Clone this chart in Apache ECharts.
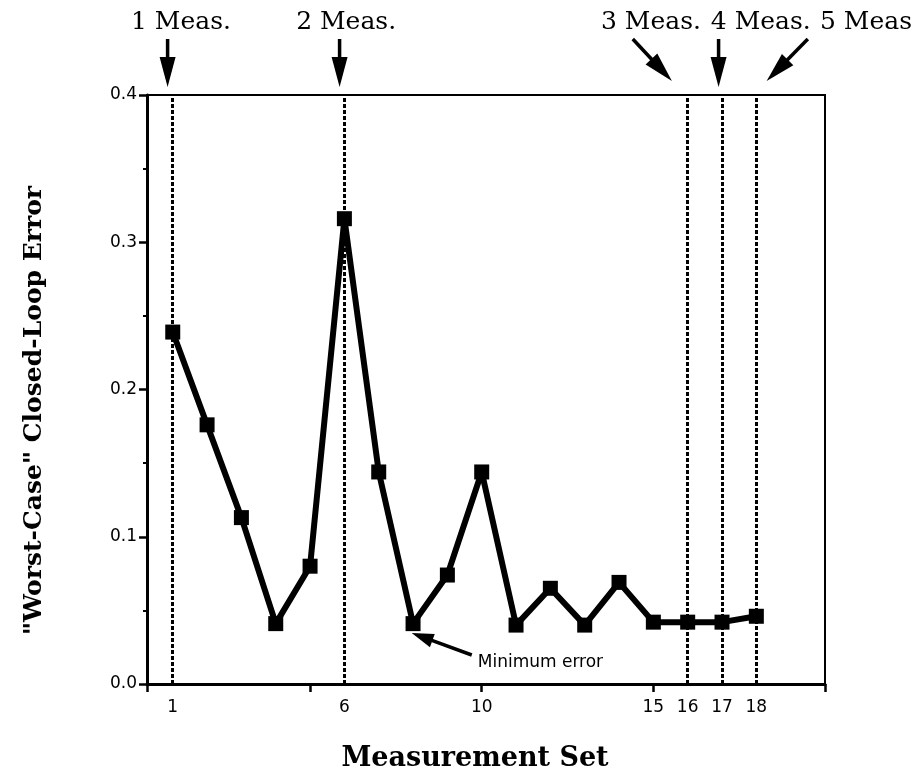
<!DOCTYPE html>
<html>
<head>
<meta charset="utf-8">
<script src="https://cdn.jsdelivr.net/npm/echarts@6/dist/echarts.min.js"></script>
<style>
  html, body { margin: 0; padding: 0; background: #fff; overflow: hidden; }
  #chart { width: 914px; height: 779px; }
</style>
</head>
<body>
<div id="chart"></div>
<script>
// Measurement sets and the worst-case closed-loop error for each
const measurementSets = [1, 2, 3, 4, 5, 6, 7, 8, 9, 10, 11, 12, 13, 14, 15, 16, 17, 18];
const worstCaseError = [0.239, 0.176, 0.113, 0.041, 0.080, 0.316, 0.144, 0.041, 0.074,
                        0.144, 0.040, 0.065, 0.040, 0.069, 0.042, 0.042, 0.042, 0.046];

// Labelled sets and tick marks on the x axis
const xTickLabels = [1, 6, 10, 15, 16, 17, 18];
const xTickMarks = [0.25, 5, 10, 15, 20];
// Sets where another measurement is added (dashed verticals)
const measurementMarks = [1, 6, 16, 17, 18];

// Arrow annotations above the plot: label, arrow tip x, arrow tail x, label centre x (data units)
const measLabels = ['1 Meas.', '2 Meas.', '3 Meas.', '4 Meas.', '5 Meas.'];
const measTipX   = [0.85, 5.86, 15.54, 16.9, 18.3];
const measTailX  = [0.85, 5.86, 14.4, 16.9, 19.5];
const measTextX  = [1.24, 6.05, 14.93, 18.13, 21.31];

// "Minimum error" callout: tip at set 8, tail below and to the right
const minErrTip = [7.96, 0.0346];
const minErrTail = [9.71, 0.0197];

const serif = '"DejaVu Serif", "Liberation Serif", serif';
const sans = '"DejaVu Sans", "Liberation Sans", sans-serif';

const chart = echarts.init(document.getElementById('chart'), null, { renderer: 'canvas' });

const seriesData = measurementSets.map((x, i) => [x, worstCaseError[i]]);

chart.setOption({
  animation: false,
  backgroundColor: '#fff',
  grid: {
    left: 147, right: 89, top: 95, bottom: 95,
    show: true, borderColor: '#000', borderWidth: 2, backgroundColor: 'transparent'
  },
  xAxis: {
    type: 'value', min: 0.25, max: 20,
    axisLine: { show: true, onZero: false, lineStyle: { color: '#000', width: 3 } },
    axisTick: { show: true, length: 8, customValues: xTickMarks, lineStyle: { color: '#000', width: 2.5 } },
    axisLabel: {
      show: true, margin: 15, color: '#000', fontFamily: sans, fontSize: 17,
      customValues: xTickLabels,
      formatter: v => String(v)
    },
    splitLine: { show: false },
    name: 'Measurement Set', nameLocation: 'middle', nameGap: 61,
    nameTextStyle: { fontFamily: serif, fontWeight: 'bold', fontSize: 27, color: '#000',
                     padding: [0, 22, 0, 0] }
  },
  yAxis: {
    type: 'value', min: 0, max: 0.4, interval: 0.1,
    axisLine: { show: true, onZero: false, lineStyle: { color: '#000', width: 3 } },
    axisTick: { show: true, length: 8, lineStyle: { color: '#000', width: 2.5 } },
    minorTick: { show: true, splitNumber: 2, length: 4, lineStyle: { color: '#000', width: 2 } },
    splitLine: { show: false },
    axisLabel: {
      margin: 10, color: '#000', fontFamily: sans, fontSize: 17,
      formatter: v => v.toFixed(1)
    },
    name: '"Worst-Case" Closed-Loop Error', nameLocation: 'middle', nameGap: 100,
    nameRotate: 90,
    nameTextStyle: { fontFamily: serif, fontWeight: 'bold', fontSize: 25, color: '#000',
                     padding: [0, 42, 0, 0] }
  },
  series: [
    {
      type: 'line',
      data: seriesData,
      symbol: 'rect', symbolSize: 15,
      itemStyle: { color: '#000' },
      lineStyle: { color: '#000', width: 6 },
      z: 5,
      markLine: {
        silent: true, symbol: 'none',
        label: { show: false },
        lineStyle: { color: '#000', type: [4, 2], width: 3 },
        data: measurementMarks.map(x => ({ xAxis: x }))
      }
    }
  ]
});

// Annotation arrows and labels, placed from data coordinates
function toPx(x, y) { return chart.convertToPixel({ gridIndex: 0 }, [x, y]); }

function arrow(x1, y1, x2, y2, headLen, headHalf, shaftW) {
  const dx = x2 - x1, dy = y2 - y1;
  const L = Math.sqrt(dx * dx + dy * dy);
  const ux = dx / L, uy = dy / L;
  const bx = x2 - ux * headLen, by = y2 - uy * headLen;
  const px = -uy, py = ux;
  return [
    { type: 'line', shape: { x1: x1, y1: y1, x2: bx + ux * 2, y2: by + uy * 2 },
      style: { stroke: '#000', lineWidth: shaftW }, z: 20 },
    { type: 'polygon', shape: { points: [[x2, y2], [bx + px * headHalf, by + py * headHalf], [bx - px * headHalf, by - py * headHalf]] },
      style: { fill: '#000' }, z: 20 }
  ];
}

const topY = toPx(1, 0.4)[1];
const elements = [];
measLabels.forEach((label, i) => {
  const tip = toPx(measTipX[i], 0.4)[0];
  const tail = toPx(measTailX[i], 0.4)[0];
  const textX = toPx(measTextX[i], 0.4)[0];
  const vertical = tip === tail;
  elements.push(...arrow(tail, topY - 56, tip, topY - (vertical ? 8 : 14), 30, 8, 3.5));
  elements.push({
    type: 'text', z: 20,
    style: { text: label, x: textX, y: topY - 73, textAlign: 'center', textVerticalAlign: 'middle',
             font: '25px ' + serif, fill: '#000' }
  });
});

const tipPx = toPx(minErrTip[0], minErrTip[1]);
const tailPx = toPx(minErrTail[0], minErrTail[1]);
elements.push(...arrow(tailPx[0], tailPx[1], tipPx[0], tipPx[1], 22, 7, 3.5));
elements.push({
  type: 'text', z: 20,
  style: { text: 'Minimum error', x: tailPx[0] + 6, y: tailPx[1] + 8, textAlign: 'left', textVerticalAlign: 'middle',
           font: '17px ' + sans, fill: '#000' }
});

chart.setOption({ graphic: { elements: elements } });
</script>
</body>
</html>
